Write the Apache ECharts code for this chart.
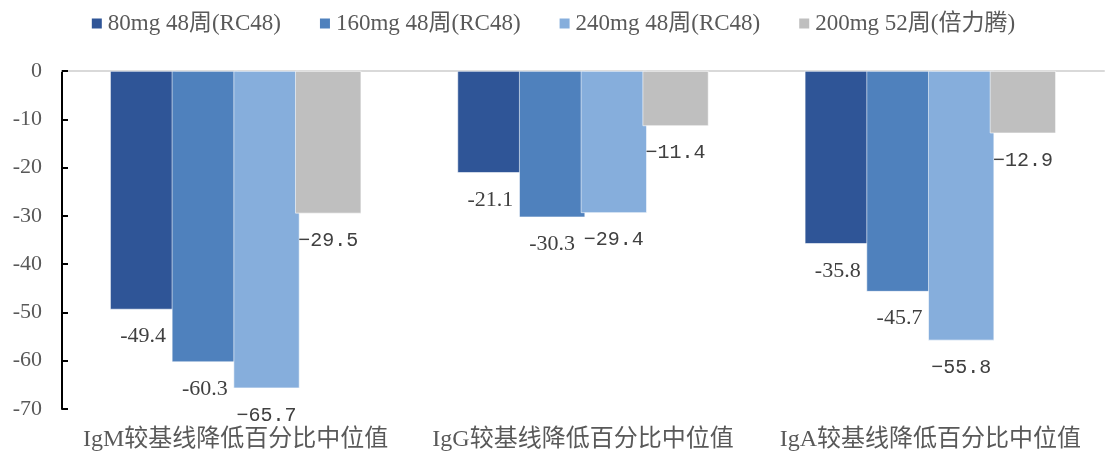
<!DOCTYPE html>
<html>
<head>
<meta charset="utf-8">
<script src="https://cdn.jsdelivr.net/npm/echarts@6/dist/echarts.min.js"></script>
<style>
  html, body { margin: 0; padding: 0; background: #fff; }
  #chart { width: 1105px; height: 455px; }
</style>
</head>
<body>
<div id="chart"></div>
<script>
// Median percent reduction from baseline in IgM / IgG / IgA
const categories = ['IgM较基线降低百分比中位值', 'IgG较基线降低百分比中位值', 'IgA较基线降低百分比中位值'];
const seriesNames = ['80mg 48周(RC48)', '160mg 48周(RC48)', '240mg 48周(RC48)', '200mg 52周(倍力腾)'];
const dose80 = [-49.4, -21.1, -35.8];
const dose160 = [-60.3, -30.3, -45.7];
const dose240 = [-65.7, -29.4, -55.8];
const dose200 = [-29.5, -11.4, -12.9];
const yTicks = [0, -10, -20, -30, -40, -50, -60, -70];

const colors = ['#2F5597', '#4F81BD', '#86AEDC', '#BFBFBF'];
const serif = "'Liberation Serif', 'Noto Sans CJK SC', serif";
const mono = "'Liberation Mono', 'DejaVu Sans Mono', monospace";

function makeSeries(idx, values, monoLabel) {
  return {
    name: seriesNames[idx],
    type: 'bar',
    data: values,
    barCategoryGap: '27.7%',
    barGap: '-6.5%',
    itemStyle: { color: colors[idx], borderColor: '#ffffff', borderWidth: 0.6 },
    label: {
      show: true,
      position: 'bottom',
      distance: monoLabel ? 17 : 16,
      color: '#404040',
      fontFamily: monoLabel ? mono : serif,
      fontSize: monoLabel ? 20 : 22,
      formatter: p => monoLabel ? ('\u2212' + Math.abs(p.value).toFixed(1)) : p.value.toFixed(1)
    }
  };
}

const chart = echarts.init(document.getElementById('chart'), null, { renderer: 'canvas' });
chart.setOption({
  animation: false,
  backgroundColor: '#ffffff',
  legend: {
    data: seriesNames,
    top: 7,
    left: 'center',
    icon: 'rect',
    itemWidth: 12,
    itemHeight: 12,
    itemGap: 37,
    textStyle: { fontFamily: serif, fontSize: 23, color: '#595959' }
  },
  grid: { left: 62, right: 1, top: 71, bottom: 46 },
  xAxis: [
    {
      type: 'category',
      data: categories,
      position: 'bottom',
      axisLine: { show: false, onZero: false },
      axisTick: { show: false },
      axisLabel: { interval: 0, fontFamily: serif, fontSize: 24, color: '#595959', margin: 19 }
    },
    {
      type: 'category',
      data: categories,
      position: 'top',
      axisLine: { show: true, onZero: false, lineStyle: { color: '#D9D9D9', width: 2 } },
      axisTick: { show: false },
      axisLabel: { show: false }
    }
  ],
  yAxis: {
    type: 'value',
    min: yTicks[yTicks.length - 1],
    max: yTicks[0],
    interval: 10,
    axisLine: { show: true, lineStyle: { color: '#000000', width: 2 } },
    axisTick: { show: true, inside: true, length: 6, lineStyle: { color: '#000000', width: 2 } },
    splitLine: { show: false },
    axisLabel: { fontFamily: serif, fontSize: 22, color: '#595959', margin: 20 }
  },
  series: [
    makeSeries(0, dose80, false),
    makeSeries(1, dose160, false),
    makeSeries(2, dose240, true),
    makeSeries(3, dose200, true)
  ]
});
</script>
</body>
</html>
